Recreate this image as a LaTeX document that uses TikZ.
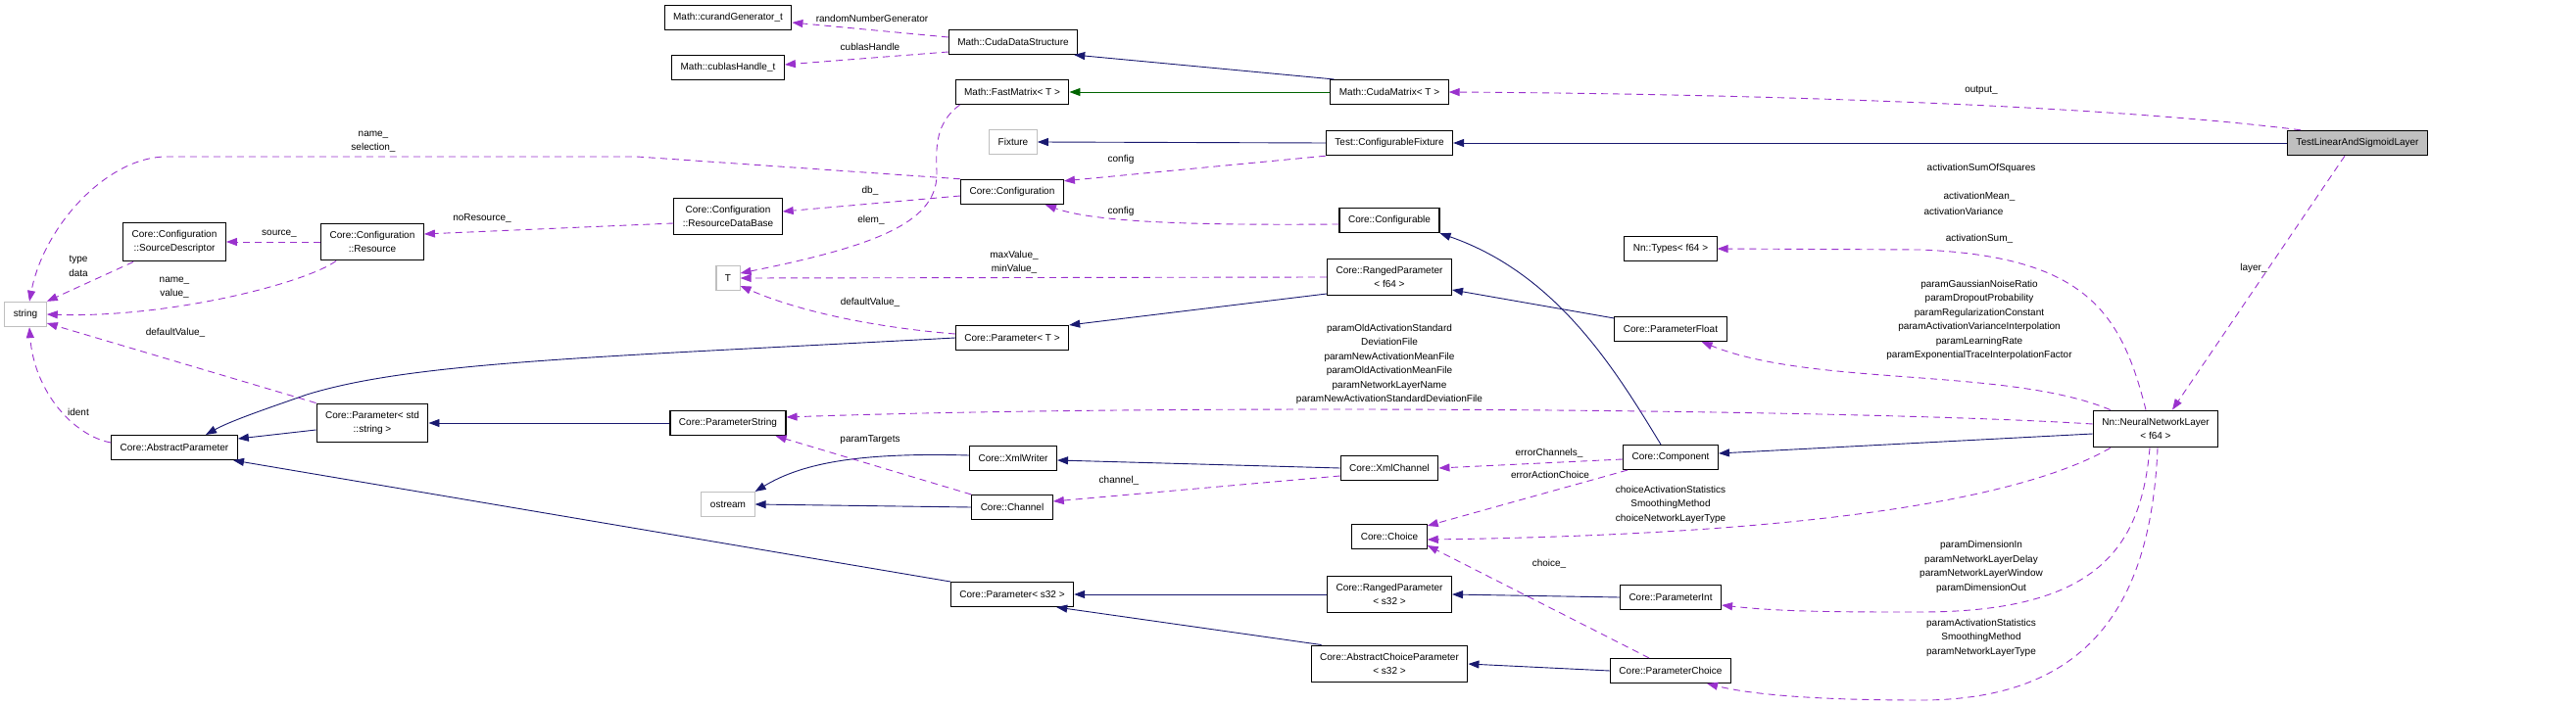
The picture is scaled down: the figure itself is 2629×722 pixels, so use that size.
\documentclass[tikz,border=0pt]{standalone}
\usepackage{fontspec}
\setmainfont{Liberation Sans}
\usetikzlibrary{arrows.meta}
\definecolor{cusage}{HTML}{9A32CD}
\definecolor{cnavy}{HTML}{191970}
\definecolor{cgreen}{HTML}{006400}
\definecolor{cgrey}{HTML}{BFBFBF}
\tikzset{
  every picture/.style={font=\fontsize{10}{14.5}\selectfont, line width=0.9pt},
  box/.style={draw=#1, fill=white, line width=1.1pt, align=center, inner xsep=9pt, inner ysep=8pt, minimum height=25pt},
  box/.default=black,
  extbox/.style={box=cgrey},
  mainbox/.style={box, fill=cgrey},
  usage/.style={-{Triangle[length=11pt, width=8pt]}, draw=cusage, dash pattern=on 7pt off 5pt},
  inherit/.style={-{Triangle[length=11pt, width=8pt]}, draw=cnavy},
  templ/.style={-{Triangle[length=11pt, width=8pt]}, draw=cgreen},
  note/.style={align=center, inner sep=0pt},
}

\begin{document}
\begin{tikzpicture}[x=1pt, y=-1pt]
  \useasboundingbox (0,0) rectangle (2629,722);

  % classes
  \node[box] (curand) at (743,18) {Math::curandGenerator\_t};
  \node[box] (cublas) at (743,69) {Math::cublasHandle\_t};
  \node[box] (cudads) at (1034,43) {Math::CudaDataStructure};
  \node[box] (fastmat) at (1033,94) {Math::FastMatrix< T >};
  \node[box] (cudamat) at (1418,94) {Math::CudaMatrix< T >};
  \node[extbox] (fixture) at (1034,145) {Fixture};
  \node[box] (cfgfix) at (1418,146) {Test::ConfigurableFixture};
  \node[mainbox] (tlsl) at (2406,146) {TestLinearAndSigmoidLayer};
  \node[box] (config) at (1033,196) {Core::Configuration};
  \node[box] (cfgable) at (1418,225) {Core::Configurable};
  \node[box] (resdb) at (743,221) {Core::Configuration\\::ResourceDataBase};
  \node[box] (srcdesc) at (178,247) {Core::Configuration\\::SourceDescriptor};
  \node[box] (resource) at (380,247) {Core::Configuration\\::Resource};
  \node[box] (types) at (1705,254) {Nn::Types< f64 >};
  \node[extbox] (tnode) at (743,284) {T};
  \node[box] (rangedf) at (1418,283) {Core::RangedParameter\\< f64 >};
  \node[extbox] (string) at (26,321) {string};
  \node[box] (paramfloat) at (1705,336) {Core::ParameterFloat};
  \node[box] (paramt) at (1033,345) {Core::Parameter< T >};
  \node[box] (paramstd) at (380,432) {Core::Parameter< std\\::string >};
  \node[box] (paramstr) at (743,432) {Core::ParameterString};
  \node[box] (nnl) at (2200,438) {Nn::NeuralNetworkLayer\\< f64 >};
  \node[box] (abspar) at (178,457) {Core::AbstractParameter};
  \node[box] (xmlwriter) at (1034,468) {Core::XmlWriter};
  \node[box] (component) at (1705,467) {Core::Component};
  \node[box] (xmlchan) at (1418,478) {Core::XmlChannel};
  \node[extbox] (ostream) at (743,515) {ostream};
  \node[box] (channel) at (1033,518) {Core::Channel};
  \node[box] (choice) at (1418,548) {Core::Choice};
  \node[box] (params32) at (1033,607) {Core::Parameter< s32 >};
  \node[box] (rangeds) at (1418,607) {Core::RangedParameter\\< s32 >};
  \node[box] (paramint) at (1705,610) {Core::ParameterInt};
  \node[box] (abschoice) at (1418,678) {Core::AbstractChoiceParameter\\< s32 >};
  \node[box] (paramchoice) at (1705,685) {Core::ParameterChoice};

  % inheritance
  \draw[inherit] ([xshift=4pt]cudamat.north west) -- ([xshift=-4pt]cudads.south east);
  \draw[templ] (cudamat.west) -- (fastmat.east);
  \draw[inherit] (tlsl.west) -- (cfgfix.east);
  \draw[inherit] (cfgfix.west) -- (fixture.east);
  \draw[inherit] (paramt.west) .. controls (600,365) and (420,370) .. (313,403) .. controls (270,418) and (235,430) .. ([xshift=32pt]abspar.north);
  \draw[inherit] ([yshift=-7pt]paramstd.west) -- ([yshift=9pt]abspar.east);
  \draw[inherit] (paramstr.west) -- (paramstd.east);
  \draw[inherit] ([yshift=-17pt]rangedf.west) -- (paramt.north east);
  \draw[inherit] ([yshift=11pt]paramfloat.west) -- ([yshift=-13pt]rangedf.east);
  \draw[inherit] ([xshift=-10pt]component.north) .. controls (1650,380) and (1590,280) .. (cfgable.south east);
  \draw[inherit] ([yshift=-5pt]nnl.west) -- ([yshift=4pt]component.east);
  \draw[inherit] (xmlchan.west) -- ([yshift=-2pt]xmlwriter.east);
  \draw[inherit] ([yshift=3pt]xmlwriter.west) .. controls (880,462) and (820,472) .. (ostream.north east);
  \draw[inherit] (channel.west) -- (ostream.east);
  \draw[inherit] (rangeds.west) -- (params32.east);
  \draw[inherit] ([xshift=11pt]abschoice.north west) -- ([xshift=-18pt]params32.south east);
  \draw[inherit] (params32.north west) -- ([xshift=60pt]abspar.south);
  \draw[inherit] (paramint.west) -- (rangeds.east);
  \draw[inherit] (paramchoice.west) -- (abschoice.east);

  % usage
  \draw[usage] ([yshift=5pt]cudads.west) -- ([yshift=-5pt]curand.east);
  \draw[usage] ([yshift=-10pt]cudads.west) -- ([yshift=3pt]cublas.east);
  \draw[usage] ([xshift=14pt]tlsl.north west) .. controls (2150,108) and (1800,96) .. (cudamat.east);
  \draw[usage] (cfgfix.south west) -- ([yshift=-2pt]config.north east);
  \draw[usage] ([yshift=-4pt]cfgable.west) .. controls (1230,230) and (1120,228) .. ([xshift=-19pt]config.south east);
  \draw[usage] ([yshift=-4pt]config.west) -- ([yshift=5pt]resdb.east);
  \draw[usage] (config.north west) -- (650,160) -- (170,160) .. controls (110,160) and (45,230) .. ([xshift=4pt]string.north);
  \draw[usage] ([yshift=-7pt]resdb.west) -- ([yshift=8pt]resource.east);
  \draw[usage] (resource.west) -- (srcdesc.east);
  \draw[usage] ([xshift=11pt]srcdesc.south west) -- (string.north east);
  \draw[usage] ([xshift=16pt]resource.south west) .. controls (310,290) and (170,325) .. (string.east);
  \draw[usage] (paramstd.north west) -- ([yshift=-9pt]string.east);
  \draw[usage] ([yshift=5pt]abspar.west) .. controls (75,445) and (35,400) .. ([xshift=4pt]string.south);
  \draw[usage] ([xshift=5pt]fastmat.south west) .. controls (955,125) and (955,150) .. (956,175) .. controls (958,225) and (900,250) .. ([yshift=5pt]tnode.east);
  \draw[usage] (rangedf.west) -- (tnode.east);
  \draw[usage] ([yshift=4pt]paramt.west) .. controls (900,335) and (820,320) .. ([yshift=-8pt]tnode.east);
  \draw[usage] ([xshift=-10pt]nnl.north) .. controls (2165,320) and (2130,262) .. (1960,255) -- (types.east);
  \draw[usage] ([xshift=18pt]nnl.north west) .. controls (2050,375) and (1850,395) .. ([xshift=-26pt]paramfloat.south east);
  \draw[usage] ([yshift=5pt]nnl.west) .. controls (1900,418) and (1200,412) .. ([yshift=6pt]paramstr.east);
  \draw[usage] ([xshift=18pt]nnl.south west) .. controls (2080,500) and (1900,545) .. ([yshift=-3pt]choice.east);
  \draw[usage] ([xshift=5pt]component.south west) -- ([yshift=11pt]choice.east);
  \draw[usage] ([yshift=-2pt]component.west) -- (xmlchan.east);
  \draw[usage] ([xshift=-22pt]paramchoice.north) -- ([yshift=-9pt]choice.east);
  \draw[usage] ([yshift=-8pt]xmlchan.west) -- ([yshift=6pt]channel.east);
  \draw[usage] (channel.north west) -- ([xshift=-11pt]paramstr.south east);
  \draw[usage] ([xshift=-6pt]nnl.south) .. controls (2185,560) and (2140,625) .. (1960,625) .. controls (1880,625) and (1820,625) .. ([yshift=-8pt]paramint.east);
  \draw[usage] ([xshift=2pt]nnl.south) .. controls (2195,620) and (2130,715) .. (1960,715) .. controls (1860,715) and (1790,710) .. ([xshift=-25pt]paramchoice.south east);
  \draw[usage] ([xshift=-13pt]tlsl.south) -- ([xshift=17pt]nnl.north);

  % member names
  \node[note] (lrng) at (890,19) {randomNumberGenerator};
  \node[note] (lcublas) at (888,48) {cublasHandle};
  \node[note] (loutput) at (2022,92) {output\_};
  \node[note] (lcfg1) at (1144,163) {config};
  \node[note] (lcfg2) at (1144,216) {config};
  \node[note] (ldb) at (888,195) {db\_};
  \node[note] (lname) at (381,145) {name\_\\selection\_};
  \node[note] (lnores) at (492,223) {noResource\_};
  \node[note] (lsource) at (285,239) {source\_};
  \node[note] (ltype) at (80,272) {type\\data};
  \node[note] (lvalue) at (178,294) {name\_\\value\_};
  \node[note] (ldef1) at (179,340) {defaultValue\_};
  \node[note] (lident) at (80,421) {ident};
  \node[note] (lelem) at (889,225) {elem\_};
  \node[note] (lminmax) at (1035,268) {maxValue\_\\minValue\_};
  \node[note] (ldef2) at (888,309) {defaultValue\_};
  \node[note] (lsumsq) at (2022,172) {activationSumOfSquares};
  \node[note] (lmean) at (2020,201) {activationMean\_};
  \node[note] (lvar) at (2004,216) {activationVariance};
  \node[note] (lsum) at (2020,244) {activationSum\_};
  \node[note] (lfloat) at (2020,327) {paramGaussianNoiseRatio\\paramDropoutProbability\\paramRegularizationConstant\\paramActivationVarianceInterpolation\\paramLearningRate\\paramExponentialTraceInterpolationFactor};
  \node[note] (lstr) at (1418,372) {paramOldActivationStandard\\DeviationFile\\paramNewActivationMeanFile\\paramOldActivationMeanFile\\paramNetworkLayerName\\paramNewActivationStandardDeviationFile};
  \node[note] (lchoice) at (1705,515) {choiceActivationStatistics\\SmoothingMethod\\choiceNetworkLayerType};
  \node[note] (lerrch) at (1581,463) {errorChannels\_};
  \node[note] (lerract) at (1582,485) {errorActionChoice};
  \node[note] (lchoice2) at (1581,576) {choice\_};
  \node[note] (lchannel) at (1142,491) {channel\_};
  \node[note] (ltargets) at (888,449) {paramTargets};
  \node[note] (lint) at (2022,579) {paramDimensionIn\\paramNetworkLayerDelay\\paramNetworkLayerWindow\\paramDimensionOut};
  \node[note] (lpchoice) at (2022,651) {paramActivationStatistics\\SmoothingMethod\\paramNetworkLayerType};
  \node[note] (llayer) at (2300,274) {layer\_};
\end{tikzpicture}
\end{document}
